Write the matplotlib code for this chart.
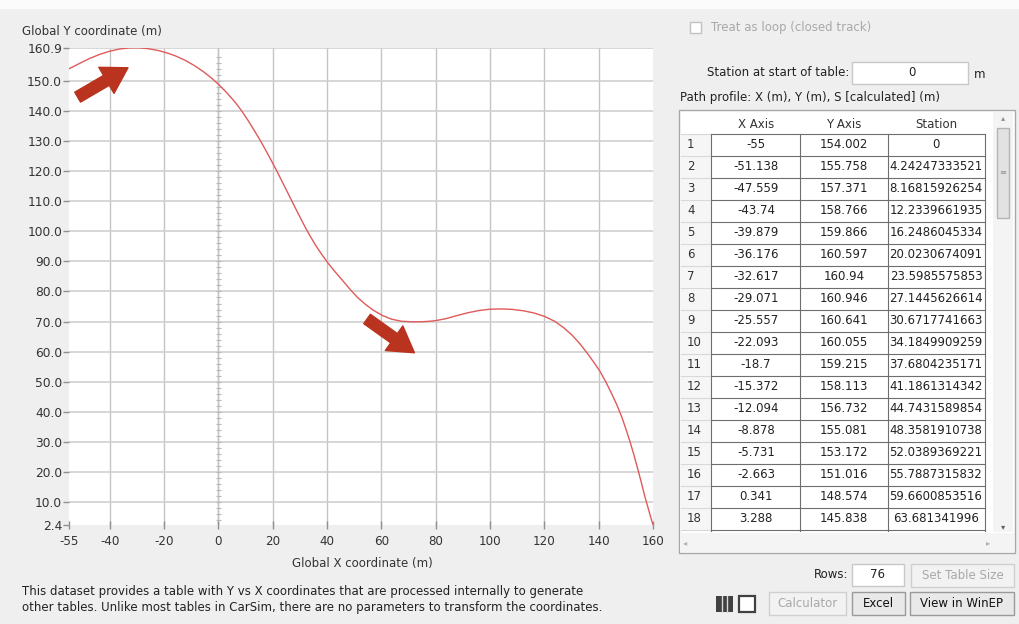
import numpy as np
import matplotlib.pyplot as plt
from matplotlib.patches import Rectangle, FancyArrowPatch

# ---- path profile: X (m), Y (m) for all 76 rows ----
x_path = [-55, -51.138, -47.559, -43.74, -39.879, -36.176, -32.617, -29.071, -25.557,
          -22.093, -18.7, -15.372, -12.094, -8.878, -5.731, -2.663, 0.341, 3.288,
          6.0, 8.5, 10.8, 13.0, 15.1, 17.2, 19.3, 21.3, 23.3, 25.3, 27.3, 29.3, 31.3,
          33.4, 35.6, 37.9, 40.3, 42.8, 45.4, 48.1, 50.9, 53.8, 56.9, 60.2, 63.7, 67.4,
          71.4, 75.5, 79.6, 83.7, 87.7, 91.7, 95.8, 99.9, 104.0, 108.1, 112.2, 116.2,
          120.1, 123.8, 127.2, 130.3, 133.1, 135.7, 138.1, 140.4, 142.6, 144.7, 146.7,
          148.5, 150.1, 151.6, 153.0, 154.3, 155.6, 156.9, 158.4, 160.0]
y_path = [154.002, 155.758, 157.371, 158.766, 159.866, 160.597, 160.94, 160.946, 160.641,
          160.055, 159.215, 158.113, 156.732, 155.081, 153.172, 151.016, 148.574, 145.838,
          143.05, 140.1, 137.0, 133.8, 130.65, 127.3, 123.8, 120.4, 116.8, 113.2, 109.6,
          106.0, 102.5, 99.0, 95.6, 92.5, 89.5, 86.7, 84.0, 81.1, 78.3, 75.95, 73.85,
          72.1, 70.8, 70.1, 69.9, 69.95, 70.25, 70.95, 71.95, 72.9, 73.65, 74.1, 74.2,
          74.05, 73.6, 72.85, 71.7, 70.1, 67.9, 65.4, 62.6, 59.6, 56.6, 53.6, 50.0, 46.2,
          42.3, 38.3, 34.1, 29.9, 25.6, 21.3, 16.9, 12.2, 7.4, 2.4]
# calculated station for the rows visible in the grid
station = [0, 4.24247333521, 8.16815926254, 12.2339661935, 16.2486045334,
           20.0230674091, 23.5985575853, 27.1445626614, 30.6717741663, 34.1849909259,
           37.6804235171, 41.1861314342, 44.7431589854, 48.3581910738, 52.0389369221,
           55.7887315832, 59.6600853516, 63.681341996]

x_ticks = [-55, -40, -20, 0, 20, 40, 60, 80, 100, 120, 140, 160]
y_ticks = [2.4, 10, 20, 30, 40, 50, 60, 70, 80, 90, 100, 110, 120, 130, 140, 150, 160.9]
n_rows = len(x_path)
shown_rows = 18

plt.rcParams['font.family'] = 'DejaVu Sans'
plt.rcParams['font.size'] = 8.5

W, H = 1020, 624
bg = '#efefef'
fig = plt.figure(figsize=(W / 100, H / 100), dpi=100, facecolor=bg)

# form layer in pixel units (y pointing down)
ui = fig.add_axes([0, 0, 1, 1])
ui.set_xlim(0, W)
ui.set_ylim(H, 0)
ui.axis('off')
ui.add_patch(Rectangle((0, 0), W, 9, color='#fbfbfb', lw=0))


def px_box(l, t, r, b):
    return [l / W, 1 - b / H, (r - l) / W, (b - t) / H]


# ---- the X-Y plot ----
ax = fig.add_axes(px_box(69, 48, 653, 525))
ax.set_facecolor('white')
ax.set_xlim(-55, 160)
ax.set_ylim(2.4, 160.9)
ax.set_xticks(x_ticks)
ax.set_xticklabels([str(t) for t in x_ticks], fontsize=8.6)
ax.set_yticks(y_ticks)
ax.set_yticklabels([f'{t:.1f}' for t in y_ticks], fontsize=8.8)
ax.tick_params(axis='y', direction='out', length=4, width=1, color='#909090',
               labelcolor='#333333', pad=1)
ax.tick_params(axis='x', direction='inout', length=6, width=1, color='#909090',
               labelcolor='#333333', pad=4)
for s in ax.spines.values():
    s.set_visible(False)

for t in x_ticks[1:-1]:
    ax.axvline(t, color='#c4c4c4', lw=1, zorder=1)
for t in y_ticks[1:]:
    ax.axhline(t, color='#d0d0d0', lw=1.2, zorder=1)

# ruler on the zero line
ax.axvline(0, color='#c4c4c4', lw=1, zorder=1)
ax.hlines(np.arange(4, 160, 2), -0.9, 0.9, color='#b8b8b8', lw=0.8, zorder=1)

ax.plot(x_path, y_path, color='#e05a5a', lw=1, zorder=3)

# direction arrows
for tail, head in [((-52.7, 144.1), (-32.4, 154.8)), ((53.9, 71.4), (73.0, 59.1))]:
    ax.add_patch(FancyArrowPatch(tail, head, mutation_scale=15, color='#b9331f', zorder=4,
                                 arrowstyle='simple,head_length=1.2,head_width=1.45,tail_width=0.55'))

ui.text(22, 32, 'Global Y coordinate (m)', ha='left', va='center', color='#333333')
ui.text(362, 563, 'Global X coordinate (m)', ha='center', va='center', color='#333333')
ui.text(22, 592, 'This dataset provides a table with Y vs X coordinates that are processed '
        'internally to generate', ha='left', va='center', color='#222222')
ui.text(22, 607, 'other tables. Unlike most tables in CarSim, there are no parameters to '
        'transform the coordinates.', ha='left', va='center', color='#222222')

# ---- right hand panel ----
gray_txt = '#a8a8a8'
ui.add_patch(Rectangle((690, 22), 11, 11, fc='white', ec='#c0c0c0', lw=1))
ui.text(711, 28, 'Treat as loop (closed track)', ha='left', va='center', color=gray_txt)

ui.text(849, 73, 'Station at start of table:', ha='right', va='center', color='#222222')
ui.add_patch(Rectangle((852, 62), 116, 22, fc='white', ec='#c8c8c8', lw=1))
ui.text(912, 73, '0', ha='center', va='center', color='#222222')
ui.text(974, 74, 'm', ha='left', va='center', color='#222222')
ui.text(680, 97, 'Path profile: X (m), Y (m), S [calculated] (m)', ha='left', va='center',
        color='#222222')

# grid frame
ui.add_patch(Rectangle((679, 110), 336, 443, fc='white', ec='#a8a8a8', lw=1))
ui.add_patch(Rectangle((680, 135), 31, 396, fc='#f6f6f6', lw=0))
col_lines = [711, 800, 888, 985]
col_mid = [756, 844, 936]
hdr_y = 124
for cx, name in zip(col_mid, ['X Axis', 'Y Axis', 'Station']):
    ui.text(cx, hdr_y, name, ha='center', va='center', color='#333333')

row_top = 134
row_h = 22
grid_bottom = 531
for i in range(shown_rows + 1):
    y = row_top + i * row_h
    ui.plot([711, 985], [y, y], color='#6e6e6e', lw=0.8)
    ui.plot([681, 711], [y, y], color='#d8d8d8', lw=0.8)
for cx in col_lines:
    ui.plot([cx, cx], [row_top, grid_bottom], color='#6e6e6e', lw=0.8)

for i in range(shown_rows):
    yc = row_top + i * row_h + row_h / 2
    ui.text(687, yc, str(i + 1), ha='left', va='center', color='#333333')
    ui.text(col_mid[0], yc, f'{x_path[i]:g}', ha='center', va='center', color='#222222')
    ui.text(col_mid[1], yc, f'{y_path[i]:g}', ha='center', va='center', color='#222222')
    ui.text(col_mid[2], yc, f'{station[i]:.12g}', ha='center', va='center', color='#222222')

# scrollbars
ui.add_patch(Rectangle((993, 112), 20, 420, fc='#f4f4f4', lw=0))
ui.add_patch(Rectangle((997, 128), 12, 90, fc='#e2e2e2', ec='#b4b4b4', lw=1))
ui.text(1003, 118, '\u25b4', ha='center', va='center', color='#909090', fontsize=6)
ui.text(1003, 527, '\u25be', ha='center', va='center', color='#606060', fontsize=6)
ui.text(1003, 172, '\u2261', ha='center', va='center', color='#909090', fontsize=6)
ui.add_patch(Rectangle((680, 533), 334, 19, fc='#f4f4f4', lw=0))
ui.text(685, 543, '\u25c2', ha='center', va='center', color='#b0b0b0', fontsize=6)
ui.text(988, 543, '\u25b8', ha='center', va='center', color='#b0b0b0', fontsize=6)

# rows / buttons
ui.text(848, 575, 'Rows:', ha='right', va='center', color='#222222')
ui.add_patch(Rectangle((852, 564), 52, 22, fc='white', ec='#c8c8c8', lw=1))
ui.text(878, 575, str(n_rows), ha='center', va='center', color='#222222')


def button(l, t, r, b, label, enabled=True):
    ui.add_patch(Rectangle((l, t), r - l, b - t, fc='#e9e9e9' if enabled else '#f2f2f2',
                           ec='#9a9a9a' if enabled else '#cfcfcf', lw=1))
    ui.text((l + r) / 2, (t + b) / 2, label, ha='center', va='center',
            color='#111111' if enabled else gray_txt)


button(911, 564, 1014, 587, 'Set Table Size', enabled=False)
button(769, 592, 846, 615, 'Calculator', enabled=False)
button(852, 592, 905, 615, 'Excel')
button(910, 592, 1014, 615, 'View in WinEP')

# layout icons
ui.add_patch(Rectangle((716, 596), 17, 16, fc='#404040', lw=0))
for k in (1, 2):
    ui.plot([716 + k * 17 / 3, 716 + k * 17 / 3], [596, 612], color='#d8d8d8', lw=1)
ui.add_patch(Rectangle((739, 596), 16, 16, fc='white', ec='#404040', lw=1.6))

fig.savefig('out.png', dpi=100, facecolor=bg)
